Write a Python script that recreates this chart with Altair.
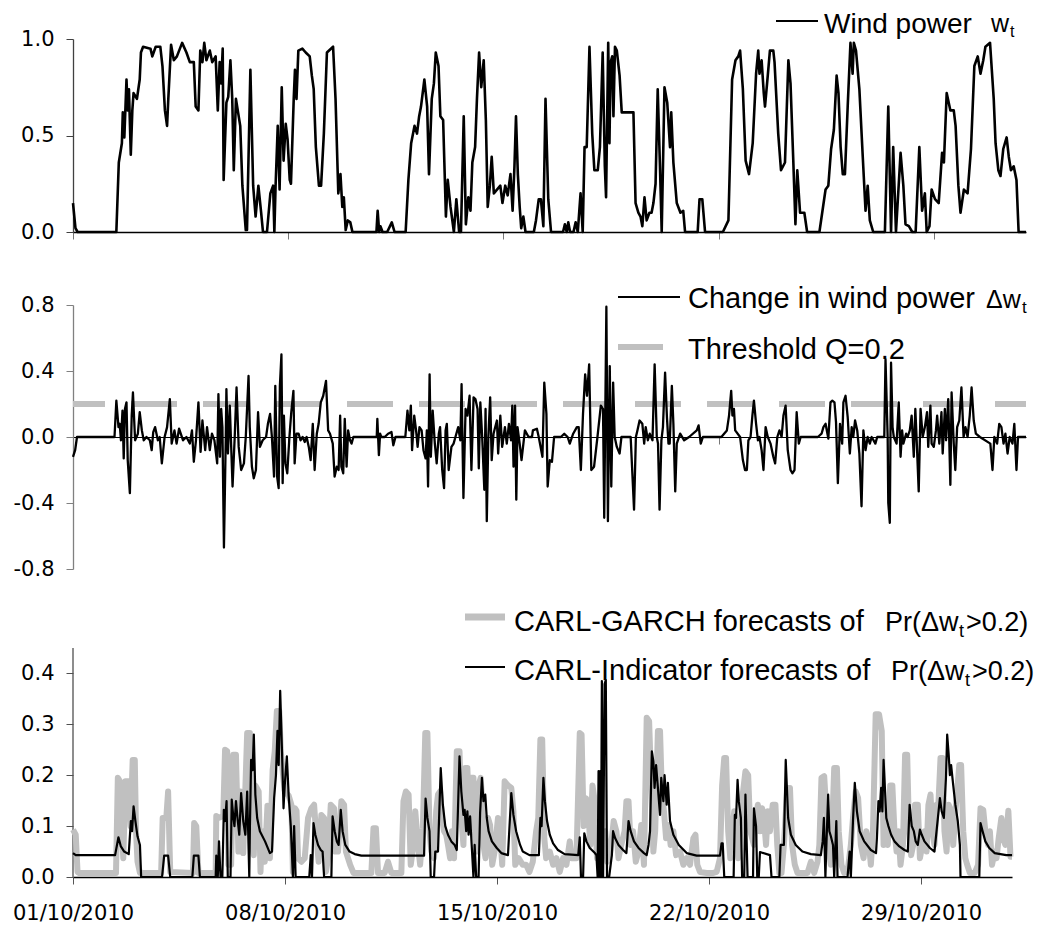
import altair as alt
import pandas as pd

# ---------------- data (days since 01/10/2010 00:00) -------------
W_DAY = [0.00, 0.08, 0.15, 1.41, 1.49, 1.59, 1.62, 1.67, 1.74, 1.78, 1.82, 1.88, 1.93, 1.97, 2.08, 2.17, 2.21, 2.28, 2.52, 2.58,
         2.69, 2.84, 2.91, 2.99, 3.06, 3.10, 3.19, 3.28, 3.38, 3.55, 3.69, 3.80, 3.93, 3.99, 4.08, 4.14, 4.21, 4.27, 4.34, 4.45,
         4.53, 4.64, 4.71, 4.77, 4.82, 4.87, 4.90, 4.99, 5.05, 5.12, 5.18, 5.23, 5.30, 5.44, 5.51, 5.62, 5.66, 5.77, 5.86, 5.94,
         6.03, 6.12, 6.18, 6.31, 6.42, 6.51, 6.55, 6.59, 6.66, 6.72, 6.79, 6.85, 6.92, 6.98, 7.05, 7.09, 7.18, 7.22, 7.27, 7.33,
         7.46, 7.57, 7.70, 7.77, 7.83, 7.90, 8.00, 8.07, 8.16, 8.26, 8.46, 8.54, 8.63, 8.70, 8.76, 8.81, 8.87, 8.94, 9.02, 9.09,
         9.87, 9.91, 9.96, 10.00, 10.07, 10.22, 10.37, 10.46, 10.82, 10.91, 11.00, 11.11, 11.19, 11.26, 11.32, 11.43, 11.52, 11.58, 11.67, 11.74,
         11.80, 11.89, 11.95, 12.04, 12.13, 12.19, 12.28, 12.39, 12.47, 12.56, 12.62, 12.71, 12.78, 12.86, 12.93, 12.99, 13.08, 13.14, 13.21, 13.28,
         13.36, 13.43, 13.49, 13.56, 13.62, 13.69, 13.90, 13.97, 14.06, 14.14, 14.23, 14.30, 14.36, 14.41, 14.47, 14.53, 14.58, 14.65, 14.72, 14.99,
         15.06, 15.15, 15.22, 15.30, 15.37, 15.46, 15.55, 15.94, 16.00, 16.06, 16.11, 16.17, 16.28, 16.35, 16.42, 16.51, 16.58, 16.64, 16.71, 16.80,
         16.89, 16.96, 17.07, 17.14, 17.23, 17.30, 17.34, 17.41, 17.45, 17.49, 17.54, 17.58, 17.63, 17.69, 17.78, 17.85, 18.23, 18.30, 18.39, 18.46,
         18.52, 18.59, 18.66, 18.75, 18.82, 18.88, 18.95, 19.02, 19.09, 19.15, 19.24, 19.33, 19.42, 19.46, 19.53, 19.64, 19.76, 19.85, 19.91, 20.32,
         20.38, 20.47, 20.56, 21.14, 21.32, 21.44, 21.55, 21.64, 21.70, 21.79, 21.88, 21.99, 22.11, 22.22, 22.29, 22.33, 22.40, 22.47, 22.51, 22.60,
         22.67, 22.78, 22.82, 22.94, 23.03, 23.16, 23.27, 23.34, 23.43, 23.50, 23.56, 23.65, 23.79, 23.88, 24.28, 24.48, 24.57, 24.66, 24.75, 24.84,
         24.90, 24.97, 25.04, 25.11, 25.20, 25.29, 25.36, 25.40, 25.47, 25.58, 25.69, 25.78, 25.85, 25.92, 26.03, 26.41, 26.52, 26.61, 26.68, 26.77,
         26.92, 27.01, 27.08, 27.19, 27.30, 27.41, 27.53, 27.62, 27.71, 27.77, 27.86, 27.93, 28.04, 28.16, 28.27, 28.33, 28.42, 28.54, 28.65, 28.71,
         28.80, 28.87, 28.98, 29.10, 29.21, 29.32, 29.43, 29.52, 29.61, 29.68, 29.83, 29.95, 30.01, 30.10, 30.17, 30.26, 30.37, 30.44, 30.51, 30.60,
         30.69, 30.76, 31.00]
W_VAL = [0.15, 0.02, 0.0, 0.0, 0.36, 0.46, 0.62, 0.49, 0.79, 0.63, 0.74, 0.40, 0.63, 0.72, 0.69, 0.79, 0.93, 0.96, 0.95, 0.91,
         0.96, 0.96, 0.86, 0.63, 0.55, 0.69, 0.97, 0.89, 0.91, 0.98, 0.93, 0.88, 0.88, 0.65, 0.63, 0.94, 0.88, 0.98, 0.89, 0.94,
         0.88, 0.91, 0.63, 0.88, 0.77, 0.95, 0.27, 0.67, 0.70, 0.89, 0.69, 0.32, 0.69, 0.55, 0.24, 0.01, 0.01, 0.84, 0.24, 0.08,
         0.24, 0.10, 0.0, 0.0, 0.20, 0.24, 0.0, 0.24, 0.55, 0.22, 0.75, 0.37, 0.56, 0.48, 0.27, 0.25, 0.69, 0.84, 0.69, 0.94,
         0.95, 0.93, 0.91, 0.81, 0.74, 0.44, 0.24, 0.24, 0.51, 0.93, 0.96, 0.69, 0.20, 0.30, 0.13, 0.18, 0.01, 0.06, 0.05, 0.0,
         0.0, 0.11, 0.0, 0.03, 0.0, 0.0, 0.05, 0.0, 0.0, 0.27, 0.46, 0.55, 0.51, 0.60, 0.65, 0.79, 0.65, 0.30, 0.69, 0.77,
         0.93, 0.86, 0.60, 0.58, 0.08, 0.27, 0.13, 0.0, 0.17, 0.0, 0.0, 0.60, 0.04, 0.18, 0.11, 0.36, 0.44, 0.69, 0.93, 0.75,
         0.89, 0.58, 0.13, 0.24, 0.39, 0.20, 0.24, 0.15, 0.24, 0.19, 0.30, 0.11, 0.34, 0.60, 0.30, 0.13, 0.02, 0.08, 0.0, 0.0,
         0.06, 0.17, 0.17, 0.03, 0.69, 0.17, 0.0, 0.0, 0.04, 0.0, 0.05, 0.0, 0.0, 0.05, 0.0, 0.20, 0.0, 0.44, 0.44, 0.96,
         0.51, 0.32, 0.32, 0.44, 0.93, 0.34, 0.18, 0.98, 0.46, 0.88, 0.91, 0.60, 0.96, 0.94, 0.81, 0.62, 0.62, 0.15, 0.10, 0.08,
         0.03, 0.18, 0.06, 0.10, 0.10, 0.15, 0.25, 0.74, 0.36, 0.0, 0.75, 0.67, 0.44, 0.62, 0.36, 0.15, 0.10, 0.11, 0.0, 0.0,
         0.17, 0.17, 0.0, 0.0, 0.06, 0.79, 0.89, 0.91, 0.94, 0.74, 0.37, 0.30, 0.46, 0.82, 0.94, 0.82, 0.89, 0.72, 0.65, 0.81,
         0.94, 0.94, 0.88, 0.51, 0.32, 0.36, 0.89, 0.77, 0.37, 0.04, 0.32, 0.10, 0.10, 0.0, 0.0, 0.22, 0.24, 0.43, 0.53, 0.81,
         0.72, 0.44, 0.30, 0.30, 0.65, 0.98, 0.82, 0.98, 0.94, 0.74, 0.39, 0.11, 0.24, 0.06, 0.0, 0.0, 0.65, 0.0, 0.44, 0.0,
         0.41, 0.24, 0.04, 0.03, 0.0, 0.0, 0.44, 0.11, 0.20, 0.0, 0.03, 0.22, 0.17, 0.15, 0.41, 0.36, 0.72, 0.63, 0.63, 0.55,
         0.24, 0.10, 0.22, 0.20, 0.43, 0.86, 0.91, 0.82, 0.89, 0.96, 0.98, 0.69, 0.46, 0.32, 0.29, 0.43, 0.49, 0.39, 0.32, 0.34,
         0.27, 0.0, 0.0]

DW_DAY = [0.00, 0.07, 0.13, 1.35, 1.41, 1.48, 1.52, 1.56, 1.61, 1.65, 1.69, 1.74, 1.78, 1.85, 1.91, 1.95, 2.02, 2.11, 2.17, 2.24,
          2.30, 2.39, 2.50, 2.56, 2.61, 2.67, 2.76, 2.82, 2.89, 2.98, 3.06, 3.15, 3.21, 3.30, 3.37, 3.45, 3.58, 3.69, 3.80, 3.87,
          3.93, 4.00, 4.08, 4.15, 4.21, 4.30, 4.36, 4.45, 4.52, 4.60, 4.69, 4.73, 4.78, 4.82, 4.86, 4.91, 4.97, 4.99, 5.04, 5.10,
          5.19, 5.26, 5.32, 5.39, 5.47, 5.56, 5.62, 5.71, 5.75, 5.82, 5.88, 5.95, 6.02, 6.08, 6.17, 6.28, 6.34, 6.41, 6.47, 6.54,
          6.58, 6.64, 6.69, 6.73, 6.78, 6.82, 6.86, 6.91, 6.97, 7.04, 7.10, 7.17, 7.21, 7.27, 7.34, 7.40, 7.47, 7.54, 7.60, 7.67,
          7.73, 7.80, 7.86, 7.93, 7.99, 8.06, 8.14, 8.23, 8.30, 8.36, 8.45, 8.51, 8.58, 8.64, 8.69, 8.73, 8.79, 8.84, 8.90, 8.95,
          9.01, 9.06, 9.12, 9.88, 9.90, 9.95, 9.99, 10.03, 10.14, 10.25, 10.36, 10.42, 10.49, 10.81, 10.88, 10.94, 10.99, 11.03, 11.10, 11.16,
          11.21, 11.27, 11.34, 11.40, 11.47, 11.51, 11.55, 11.60, 11.64, 11.70, 11.77, 11.83, 11.90, 11.94, 12.01, 12.07, 12.12, 12.16, 12.22, 12.31,
          12.38, 12.44, 12.53, 12.60, 12.64, 12.70, 12.77, 12.83, 12.90, 12.96, 13.03, 13.09, 13.16, 13.20, 13.25, 13.31, 13.38, 13.42, 13.46, 13.51,
          13.57, 13.62, 13.68, 13.72, 13.79, 13.83, 13.90, 13.96, 14.05, 14.11, 14.18, 14.25, 14.29, 14.33, 14.38, 14.42, 14.46, 14.53, 14.59, 14.70,
          14.82, 14.93, 14.96, 15.09, 15.15, 15.27, 15.33, 15.40, 15.44, 15.51, 15.58, 15.65, 15.87, 15.98, 16.09, 16.16, 16.27, 16.39, 16.45, 16.52,
          16.59, 16.66, 16.72, 16.79, 16.86, 16.95, 17.06, 17.17, 17.24, 17.28, 17.35, 17.40, 17.46, 17.51, 17.57, 17.62, 17.69, 17.78, 17.84, 18.14,
          18.25, 18.31, 18.36, 18.43, 18.52, 18.58, 18.63, 18.70, 18.76, 18.85, 18.92, 18.99, 19.03, 19.08, 19.14, 19.19, 19.26, 19.32, 19.37, 19.41,
          19.48, 19.53, 19.59, 19.64, 19.75, 19.88, 20.04, 20.29, 20.35, 20.42, 20.49, 21.09, 21.18, 21.27, 21.34, 21.41, 21.45, 21.50, 21.54, 21.70,
          21.79, 21.86, 21.92, 21.97, 22.04, 22.10, 22.15, 22.22, 22.28, 22.33, 22.40, 22.46, 22.53, 22.60, 22.69, 22.78, 22.84, 22.91, 22.98, 23.05,
          23.11, 23.18, 23.25, 23.34, 23.40, 23.47, 23.54, 23.61, 23.67, 24.23, 24.35, 24.41, 24.48, 24.57, 24.64, 24.70, 24.77, 24.82, 24.88, 24.95,
          25.02, 25.06, 25.13, 25.20, 25.27, 25.33, 25.38, 25.44, 25.51, 25.58, 25.65, 25.71, 25.78, 25.85, 25.92, 25.98, 26.10, 26.16, 26.39, 26.43,
          26.50, 26.52, 26.57, 26.61, 26.66, 26.70, 26.79, 26.86, 26.92, 26.97, 27.01, 27.10, 27.15, 27.22, 27.28, 27.35, 27.40, 27.44, 27.51, 27.57,
          27.64, 27.71, 27.78, 27.82, 27.89, 27.93, 28.00, 28.07, 28.11, 28.18, 28.25, 28.29, 28.36, 28.40, 28.47, 28.54, 28.58, 28.65, 28.70, 28.76,
          28.83, 28.90, 28.97, 29.03, 29.10, 29.17, 29.23, 29.30, 29.37, 29.50, 29.84, 29.91, 29.97, 30.06, 30.13, 30.20, 30.27, 30.33, 30.40, 30.47,
          30.56, 30.62, 30.69, 30.74, 30.96, 31.00]
DW_VAL = [-0.12, -0.08, 0.0, 0.0, 0.22, 0.06, 0.08, -0.02, 0.16, -0.13, 0.17, 0.21, -0.14, -0.34, 0.13, 0.27, -0.02, 0.02, 0.15, 0.04,
          -0.02, 0.0, -0.02, -0.08, 0.03, 0.06, -0.02, 0.0, -0.16, 0.0, 0.06, 0.23, -0.04, 0.04, -0.04, 0.05, -0.02, 0.0, -0.04, 0.04,
          -0.15, -0.02, 0.21, -0.09, 0.10, -0.08, 0.06, -0.08, 0.02, -0.02, -0.16, 0.26, -0.12, 0.17, 0.06, -0.67, 0.0, 0.29, -0.10, 0.19,
          -0.30, 0.0, 0.30, -0.06, -0.20, -0.16, 0.0, 0.37, 0.06, -0.18, -0.25, -0.20, 0.15, -0.06, -0.02, 0.0, 0.08, 0.14, 0.0, -0.24,
          0.31, -0.24, -0.31, 0.31, 0.50, -0.28, 0.13, -0.16, -0.22, 0.0, 0.15, 0.28, -0.16, 0.02, 0.02, -0.02, 0.0, -0.03, 0.0, -0.06,
          -0.14, 0.08, -0.20, 0.02, 0.08, 0.21, 0.25, 0.34, 0.04, 0.02, -0.04, -0.24, -0.18, -0.20, 0.13, -0.18, -0.22, 0.11, -0.18, 0.04,
          -0.02, -0.04, 0.0, 0.0, 0.11, -0.11, 0.02, 0.0, 0.0, 0.02, 0.03, -0.05, 0.0, 0.0, 0.16, 0.04, 0.19, -0.08, 0.13, 0.04,
          -0.06, 0.06, 0.04, -0.08, -0.13, 0.04, -0.30, 0.38, -0.12, 0.16, -0.04, -0.16, 0.02, 0.06, -0.20, -0.31, 0.04, 0.08, -0.20, -0.06,
          -0.04, 0.0, 0.06, -0.02, 0.32, -0.37, 0.17, 0.13, 0.25, -0.20, 0.24, 0.23, 0.17, -0.19, 0.21, 0.0, -0.32, 0.17, -0.51, 0.0,
          0.24, -0.14, 0.02, 0.05, 0.10, -0.10, 0.13, -0.06, 0.06, -0.04, 0.08, -0.02, 0.19, -0.18, 0.19, -0.38, 0.06, -0.04, -0.14, 0.04,
          0.0, 0.0, 0.04, 0.05, 0.0, -0.12, 0.33, 0.14, -0.30, -0.14, -0.15, 0.0, 0.0, 0.02, 0.0, -0.04, 0.02, 0.06, 0.06, -0.20,
          0.14, 0.38, 0.25, 0.44, -0.20, -0.18, 0.0, 0.19, 0.17, -0.49, 0.79, -0.51, 0.43, -0.30, 0.33, 0.0, -0.06, -0.10, 0.0, 0.0,
          -0.44, 0.0, 0.04, 0.10, 0.08, -0.04, 0.06, -0.02, 0.02, -0.02, 0.44, 0.0, -0.04, -0.44, -0.02, 0.06, 0.39, 0.12, -0.04, -0.04,
          0.31, 0.08, -0.33, -0.04, 0.02, -0.02, 0.0, 0.04, 0.07, -0.04, 0.0, 0.0, 0.02, 0.04, 0.13, 0.28, 0.13, 0.17, 0.04, 0.0,
          -0.14, -0.20, -0.20, -0.02, 0.0, 0.13, 0.22, 0.08, -0.02, 0.0, -0.08, -0.20, 0.06, 0.0, -0.04, -0.12, -0.16, 0.0, 0.04, 0.0,
          0.13, 0.19, -0.08, -0.20, -0.22, -0.20, 0.15, -0.04, 0.0, 0.0, 0.02, 0.06, 0.08, -0.01, 0.21, 0.22, 0.21, 0.09, -0.28, 0.08,
          -0.04, 0.21, 0.25, 0.12, -0.10, 0.06, 0.0, 0.10, 0.04, -0.10, -0.42, 0.04, -0.08, 0.0, -0.04, 0.0, -0.04, 0.0, 0.0, 0.47,
          0.0, -0.40, -0.52, 0.45, 0.06, 0.0, -0.04, 0.21, -0.12, 0.04, -0.04, 0.02, 0.0, 0.04, 0.13, -0.12, 0.17, 0.0, -0.33, 0.17,
          0.0, 0.06, 0.15, -0.06, 0.19, -0.04, -0.06, 0.04, 0.13, -0.04, 0.15, -0.10, 0.17, -0.02, 0.23, -0.29, 0.27, -0.04, -0.20, 0.06,
          0.10, 0.30, 0.0, 0.06, 0.0, 0.13, 0.30, 0.10, 0.02, 0.0, -0.04, -0.20, 0.0, -0.04, 0.08, 0.06, -0.04, 0.02, -0.10, 0.0,
          -0.04, 0.08, -0.20, 0.0, 0.0, 0.0]

GARCH_DAY = [0.00, 0.09, 0.15, 0.20, 1.42, 1.48, 1.55, 1.59, 1.66, 1.73, 1.84, 1.90, 1.97, 2.04, 2.08, 2.13, 2.21, 2.91, 2.96, 3.08,
             3.14, 3.21, 3.96, 4.00, 4.07, 4.14, 4.71, 4.73, 4.80, 4.96, 5.02, 5.09, 5.13, 5.22, 5.29, 5.38, 5.46, 5.53, 5.62, 5.75,
             5.84, 5.91, 5.97, 6.02, 6.13, 6.19, 6.24, 6.33, 6.42, 6.50, 6.59, 6.66, 6.73, 6.81, 6.86, 6.92, 6.99, 7.12, 7.21, 7.26,
             7.33, 7.38, 7.43, 7.54, 7.65, 7.76, 7.87, 7.96, 8.02, 8.11, 8.20, 8.29, 8.35, 8.42, 8.51, 8.62, 8.66, 8.75, 8.86, 8.95,
             9.01, 9.15, 9.26, 9.85, 9.92, 10.00, 10.07, 10.29, 10.40, 10.51, 10.84, 10.91, 10.99, 11.08, 11.15, 11.24, 11.30, 11.39, 11.46, 11.55,
             11.63, 11.70, 11.77, 11.83, 11.92, 11.99, 12.05, 12.12, 12.18, 12.25, 12.32, 12.38, 12.45, 12.51, 12.58, 12.67, 12.76, 12.82, 12.89, 12.95,
             13.02, 13.09, 13.15, 13.22, 13.26, 13.33, 13.39, 13.46, 13.50, 13.55, 13.62, 13.70, 13.77, 13.84, 13.92, 14.03, 14.10, 14.17, 14.25, 14.36,
             14.47, 14.54, 14.60, 14.71, 14.85, 14.96, 15.07, 15.18, 15.29, 15.36, 15.43, 15.49, 15.56, 15.62, 15.74, 15.85, 15.96, 16.07, 16.18, 16.29,
             16.40, 16.46, 16.62, 16.73, 16.79, 16.86, 16.93, 16.99, 17.08, 17.15, 17.21, 17.30, 17.39, 17.48, 17.57, 17.64, 17.72, 17.79, 17.85, 17.94,
             18.01, 18.10, 18.21, 18.27, 18.34, 18.41, 18.49, 18.58, 18.67, 18.76, 18.85, 18.94, 19.02, 19.09, 19.16, 19.22, 19.31, 19.38, 19.44, 19.51,
             19.58, 19.66, 19.73, 19.82, 19.91, 20.04, 20.15, 20.26, 20.37, 20.48, 20.55, 20.61, 20.70, 20.92, 21.14, 21.25, 21.36, 21.43, 21.50, 21.56,
             21.63, 21.70, 21.76, 21.83, 21.89, 21.96, 22.03, 22.11, 22.20, 22.29, 22.36, 22.48, 22.55, 22.61, 22.68, 22.75, 22.81, 22.88, 22.94, 23.01,
             23.10, 23.19, 23.25, 23.32, 23.39, 23.47, 23.58, 23.67, 23.74, 23.83, 23.92, 24.25, 24.36, 24.47, 24.58, 24.64, 24.71, 24.80, 24.87, 24.93,
             25.02, 25.13, 25.22, 25.28, 25.37, 25.46, 25.57, 25.68, 25.75, 25.84, 25.92, 26.01, 26.10, 26.19, 26.28, 26.34, 26.41, 26.50, 26.61, 26.70,
             26.76, 26.83, 26.90, 26.98, 27.05, 27.12, 27.19, 27.25, 27.32, 27.40, 27.47, 27.54, 27.60, 27.67, 27.74, 27.80, 27.89, 27.96, 28.04, 28.11,
             28.18, 28.24, 28.31, 28.37, 28.44, 28.51, 28.57, 28.64, 28.71, 28.77, 28.84, 28.91, 28.99, 29.06, 29.13, 29.19, 29.26, 29.32, 29.39, 29.46,
             29.52, 29.61, 29.77, 29.88, 29.96, 30.05, 30.12, 30.21, 30.27, 30.34, 30.43, 30.49, 30.56, 30.65, 30.71, 30.78, 30.88, 30.95, 31.00]
GARCH_VAL = [0.093, 0.083, 0.010, 0.008, 0.008, 0.195, 0.188, 0.116, 0.037, 0.188, 0.188, 0.100, 0.230, 0.230, 0.090, 0.030, 0.008, 0.008, 0.116, 0.116,
             0.168, 0.010, 0.008, 0.106, 0.100, 0.008, 0.008, 0.120, 0.116, 0.120, 0.250, 0.247, 0.024, 0.024, 0.240, 0.240, 0.050, 0.168, 0.047, 0.283,
             0.283, 0.063, 0.043, 0.180, 0.168, 0.010, 0.090, 0.030, 0.140, 0.037, 0.210, 0.247, 0.326, 0.326, 0.247, 0.210, 0.168, 0.160, 0.142, 0.010,
             0.135, 0.130, 0.037, 0.030, 0.037, 0.116, 0.135, 0.142, 0.090, 0.030, 0.122, 0.116, 0.010, 0.037, 0.142, 0.135, 0.050, 0.050, 0.149, 0.142,
             0.050, 0.024, 0.008, 0.008, 0.096, 0.096, 0.008, 0.008, 0.030, 0.008, 0.008, 0.149, 0.168, 0.162, 0.024, 0.063, 0.129, 0.063, 0.024, 0.096,
             0.283, 0.283, 0.090, 0.050, 0.037, 0.129, 0.162, 0.168, 0.116, 0.090, 0.083, 0.063, 0.037, 0.090, 0.037, 0.247, 0.247, 0.116, 0.063, 0.214,
             0.214, 0.102, 0.195, 0.195, 0.090, 0.050, 0.180, 0.195, 0.155, 0.063, 0.037, 0.116, 0.102, 0.024, 0.050, 0.116, 0.090, 0.024, 0.188, 0.180,
             0.175, 0.129, 0.024, 0.037, 0.024, 0.024, 0.010, 0.030, 0.090, 0.116, 0.270, 0.270, 0.076, 0.037, 0.050, 0.024, 0.037, 0.010, 0.037, 0.024,
             0.070, 0.037, 0.037, 0.283, 0.280, 0.100, 0.155, 0.149, 0.063, 0.180, 0.155, 0.037, 0.116, 0.063, 0.090, 0.030, 0.043, 0.076, 0.110, 0.090,
             0.037, 0.063, 0.090, 0.149, 0.149, 0.063, 0.090, 0.030, 0.050, 0.102, 0.024, 0.313, 0.306, 0.180, 0.050, 0.090, 0.287, 0.287, 0.168, 0.129,
             0.076, 0.102, 0.063, 0.090, 0.043, 0.050, 0.024, 0.037, 0.024, 0.076, 0.083, 0.024, 0.010, 0.008, 0.008, 0.010, 0.037, 0.180, 0.234, 0.234,
             0.090, 0.037, 0.083, 0.129, 0.090, 0.037, 0.090, 0.162, 0.208, 0.200, 0.090, 0.063, 0.116, 0.142, 0.090, 0.135, 0.116, 0.063, 0.129, 0.090,
             0.142, 0.142, 0.063, 0.008, 0.008, 0.063, 0.175, 0.175, 0.063, 0.024, 0.008, 0.008, 0.030, 0.008, 0.030, 0.063, 0.195, 0.198, 0.129, 0.063,
             0.024, 0.214, 0.214, 0.090, 0.024, 0.008, 0.010, 0.063, 0.116, 0.168, 0.155, 0.063, 0.037, 0.090, 0.063, 0.024, 0.090, 0.320, 0.320, 0.287,
             0.063, 0.102, 0.063, 0.180, 0.180, 0.090, 0.050, 0.090, 0.024, 0.063, 0.240, 0.240, 0.090, 0.043, 0.063, 0.142, 0.142, 0.037, 0.063, 0.090,
             0.050, 0.142, 0.162, 0.090, 0.063, 0.142, 0.142, 0.234, 0.234, 0.090, 0.050, 0.142, 0.129, 0.063, 0.129, 0.168, 0.220, 0.220, 0.090, 0.037,
             0.024, 0.008, 0.008, 0.024, 0.135, 0.132, 0.090, 0.063, 0.090, 0.024, 0.050, 0.037, 0.076, 0.116, 0.076, 0.063, 0.130, 0.040, 0.040]

IND_DAY = [0.00, 0.09, 1.39, 1.50, 1.58, 1.69, 1.84, 1.91, 1.95, 2.00, 2.06, 2.13, 2.21, 2.25, 2.94, 3.01, 3.14, 3.21, 3.94, 3.99,
           4.14, 4.19, 4.71, 4.73, 4.78, 4.82, 4.87, 4.93, 4.98, 5.02, 5.07, 5.11, 5.20, 5.24, 5.29, 5.33, 5.38, 5.44, 5.49, 5.55,
           5.62, 5.69, 5.75, 5.82, 5.84, 5.88, 5.93, 5.97, 6.02, 6.08, 6.17, 6.34, 6.50, 6.57, 6.64, 6.70, 6.75, 6.79, 6.84, 6.90,
           6.95, 6.99, 7.06, 7.12, 7.19, 7.26, 7.30, 7.35, 7.43, 7.80, 7.85, 7.89, 7.94, 8.00, 8.09, 8.18, 8.24, 8.29, 8.53, 8.57,
           8.64, 8.71, 8.77, 8.84, 8.90, 8.99, 9.13, 9.30, 9.52, 11.59, 11.64, 11.70, 11.77, 11.81, 11.92, 11.96, 12.05, 12.14, 12.21, 12.29,
           12.38, 12.49, 12.60, 12.67, 12.76, 12.82, 12.89, 12.93, 12.98, 13.02, 13.06, 13.11, 13.15, 13.22, 13.26, 13.31, 13.39, 13.44, 13.50, 13.55,
           13.61, 13.66, 13.72, 13.83, 13.99, 14.14, 14.36, 14.47, 14.54, 14.63, 14.76, 14.85, 15.07, 15.38, 15.43, 15.47, 15.53, 15.58, 15.65, 15.74,
           15.85, 16.01, 16.23, 16.68, 16.73, 16.77, 16.84, 16.88, 16.95, 17.06, 17.23, 17.28, 17.32, 17.35, 17.39, 17.41, 17.43, 17.46, 17.50, 17.55,
           17.59, 17.63, 17.70, 17.79, 17.83, 17.90, 18.01, 18.16, 18.27, 18.34, 18.41, 18.52, 18.67, 18.85, 18.94, 19.00, 19.05, 19.11, 19.16, 19.20,
           19.25, 19.31, 19.38, 19.42, 19.49, 19.53, 19.60, 19.64, 19.71, 19.82, 20.00, 20.26, 20.59, 21.36, 21.41, 21.45, 21.50, 21.81, 21.85, 21.89,
           21.94, 21.98, 22.05, 22.09, 22.16, 22.20, 22.27, 22.45, 22.48, 22.55, 22.59, 22.64, 22.68, 23.01, 23.06, 23.32, 23.36, 23.47, 23.53, 23.61,
           23.70, 23.86, 24.08, 24.36, 24.69, 24.75, 24.79, 24.84, 24.88, 24.93, 24.97, 25.02, 25.09, 25.13, 25.20, 25.24, 25.57, 25.64, 25.68, 25.75,
           25.81, 25.88, 25.97, 26.12, 26.34, 26.51, 26.54, 26.59, 26.63, 26.68, 26.72, 26.76, 26.81, 26.85, 26.92, 27.01, 27.12, 27.28, 27.45, 27.56,
           27.62, 27.69, 27.76, 27.82, 27.89, 27.96, 28.02, 28.11, 28.29, 28.44, 28.62, 28.68, 28.75, 28.82, 28.86, 28.91, 28.95, 28.99, 29.06, 29.13,
           29.21, 29.28, 29.30, 29.92, 29.96, 30.03, 30.12, 30.25, 30.43, 30.81, 31.00]
IND_VAL = [0.047, 0.043, 0.043, 0.078, 0.060, 0.050, 0.045, 0.110, 0.090, 0.139, 0.110, 0.080, 0.063, 0.0, 0.0, 0.042, 0.042, 0.0, 0.0, 0.042,
           0.042, 0.0, 0.0, 0.042, 0.0, 0.070, 0.0, 0.0, 0.132, 0.110, 0.149, 0.0, 0.0, 0.152, 0.120, 0.100, 0.149, 0.110, 0.083, 0.165,
           0.110, 0.083, 0.168, 0.0, 0.096, 0.230, 0.210, 0.280, 0.162, 0.116, 0.090, 0.070, 0.047, 0.050, 0.155, 0.200, 0.287, 0.220, 0.366, 0.247,
           0.135, 0.180, 0.237, 0.160, 0.100, 0.0, 0.100, 0.0, 0.0, 0.0, 0.043, 0.0, 0.106, 0.083, 0.063, 0.053, 0.050, 0.0, 0.0, 0.119,
           0.090, 0.070, 0.063, 0.132, 0.090, 0.063, 0.050, 0.045, 0.042, 0.042, 0.154, 0.116, 0.090, 0.0, 0.0, 0.050, 0.050, 0.214, 0.142, 0.100,
           0.083, 0.070, 0.063, 0.053, 0.237, 0.168, 0.122, 0.132, 0.090, 0.129, 0.083, 0.119, 0.076, 0.0, 0.063, 0.0, 0.0, 0.126, 0.195, 0.149,
           0.162, 0.116, 0.090, 0.070, 0.057, 0.047, 0.043, 0.165, 0.122, 0.090, 0.063, 0.050, 0.043, 0.043, 0.116, 0.100, 0.195, 0.149, 0.110, 0.083,
           0.066, 0.053, 0.045, 0.043, 0.078, 0.0, 0.0, 0.086, 0.070, 0.057, 0.047, 0.043, 0.0, 0.208, 0.0, 0.208, 0.0, 0.385, 0.0, 0.379,
           0.387, 0.0, 0.0, 0.043, 0.090, 0.076, 0.063, 0.053, 0.047, 0.110, 0.090, 0.070, 0.057, 0.047, 0.043, 0.063, 0.090, 0.247, 0.227, 0.175,
           0.220, 0.175, 0.122, 0.195, 0.149, 0.200, 0.142, 0.185, 0.110, 0.083, 0.063, 0.047, 0.042, 0.042, 0.066, 0.066, 0.0, 0.0, 0.122, 0.116,
           0.191, 0.149, 0.116, 0.0, 0.0, 0.162, 0.0, 0.0, 0.135, 0.100, 0.0, 0.0, 0.049, 0.043, 0.0, 0.0, 0.063, 0.063, 0.230, 0.116,
           0.083, 0.063, 0.050, 0.045, 0.043, 0.070, 0.116, 0.0, 0.076, 0.162, 0.090, 0.080, 0.063, 0.0, 0.110, 0.0, 0.0, 0.050, 0.0, 0.110,
           0.185, 0.129, 0.090, 0.070, 0.053, 0.047, 0.076, 0.149, 0.129, 0.175, 0.129, 0.230, 0.168, 0.116, 0.100, 0.083, 0.070, 0.060, 0.053, 0.050,
           0.142, 0.100, 0.090, 0.070, 0.063, 0.093, 0.083, 0.070, 0.057, 0.050, 0.155, 0.129, 0.116, 0.195, 0.280, 0.240, 0.200, 0.220, 0.180, 0.142,
           0.110, 0.063, 0.0, 0.0, 0.106, 0.090, 0.070, 0.057, 0.047, 0.043, 0.043]

THRESHOLD_Q = 0.2
TICK_DATES = [1, 8, 15, 22, 29]          # October 2010
W_TICKS = [0.0, 0.5, 1.0]
DW_TICKS = [-0.8, -0.4, 0.0, 0.4, 0.8]
P_TICKS = [0.0, 0.1, 0.2, 0.3, 0.4]
P_AXIS_TOP = 0.45                       # top of the drawn y-axis line in the bottom panel

# ---------------- helpers -------------
START = pd.Timestamp("2010-10-01")
END = pd.Timestamp("2010-11-01")


def frame(days, vals):
    return pd.DataFrame({"t": START + pd.to_timedelta(days, unit="D"), "v": vals})


DOM = [alt.DateTime(year=2010, month=10, date=1), alt.DateTime(year=2010, month=11, date=1)]
TICKS = [alt.DateTime(year=2010, month=10, date=d) for d in TICK_DATES]
FONT = "Liberation Sans"
AXFONT = "DejaVu Sans"
ONE = pd.DataFrame({"k": [0]})


def leg_rule(x1, x2, y, color, width):
    return alt.Chart(ONE).mark_rule(color=color, strokeWidth=width).encode(
        x=alt.value(x1), x2=alt.value(x2), y=alt.value(y))


def leg_text(txt, x, y, size):
    return alt.Chart(ONE).mark_text(text=txt, align="left", baseline="alphabetic", font=FONT,
                                    fontSize=size, color="black").encode(x=alt.value(x), y=alt.value(y))


def y_axis(values, color, domain=True):
    return alt.Axis(values=values, format=".1f", tickSize=7, domain=domain, domainColor=color, tickColor=color,
                    labelPadding=12, domainWidth=1.3,
                    labelExpr="replace(datum.label, '\u2212', '-')")


WIDTH12, WIDTH3 = 953, 939
H1, H2 = 193, 264
H3 = 235                                   # plot area; axis line itself stops at P_AXIS_TOP
P_DOM_TOP = P_AXIS_TOP * H3 / 229.0

# ---------------- panel 1 -------------
x1 = alt.X("t:T", title=None, scale=alt.Scale(domain=DOM),
           axis=alt.Axis(values=TICKS, labels=False, tickSize=7, tickColor="#777", domainColor="black", domainWidth=1.5))
y1 = alt.Y("v:Q", title=None, scale=alt.Scale(domain=[0, 1], nice=False, zero=False), axis=y_axis(W_TICKS, "#404040"))
line1 = alt.Chart(frame(W_DAY, W_VAL)).mark_line(color="black", strokeWidth=2.6, strokeJoin="round").encode(x=x1, y=y1)
p1 = alt.layer(
    line1,
    leg_rule(703, 745, -18, "black", 2),
    leg_text("Wind power", 751, -6, 28),
    leg_text("w", 918, -7, 25),
    leg_text("t", 937, -2, 16),
).properties(width=WIDTH12, height=H1)

# ---------------- panel 2 -------------
x2 = alt.X("t:T", title=None, scale=alt.Scale(domain=DOM),
           axis=alt.Axis(values=TICKS, labels=False, tickSize=7, tickColor="#777", domainColor="black",
                         domainWidth=1, offset=-H2 / 2))
y2 = alt.Y("v:Q", title=None, scale=alt.Scale(domain=[-0.8, 0.8], nice=False, zero=False), axis=y_axis(DW_TICKS, "#808080"))
thr = pd.DataFrame({"t": [START], "t2": [END], "v": [THRESHOLD_Q]})
rule_q = alt.Chart(thr).mark_rule(color="#c0c0c0", strokeWidth=6, strokeDash=[46, 26], strokeDashOffset=14).encode(
    x=x2, x2="t2:T", y=y2)
line2 = alt.Chart(frame(DW_DAY, DW_VAL)).mark_line(color="black", strokeWidth=2.3, strokeJoin="round").encode(x=x2, y=y2)
p2 = alt.layer(
    rule_q, line2,
    leg_rule(545, 607, -8, "black", 2),
    leg_text("Change in wind power", 615, 3, 29),
    leg_text("\u0394w", 913, 3, 25),
    leg_text("t", 949, 8, 17),
    leg_rule(545, 590, 42, "#c0c0c0", 6),
    leg_text("Threshold Q=0.2", 615, 54, 29),
).properties(width=WIDTH12, height=H2)

# ---------------- panel 3 -------------
x3 = alt.X("t:T", title=None, scale=alt.Scale(domain=DOM),
           axis=alt.Axis(values=TICKS, format="%d/%m/%Y", tickSize=7, tickColor="#555", domainColor="black",
                         domainWidth=1.5, labelPadding=18, labelFlush=False))
y3 = alt.Y("v:Q", title=None, scale=alt.Scale(domain=[0, P_DOM_TOP], nice=False, zero=False),
           axis=y_axis(P_TICKS, "#505050", domain=False))
axis_line = alt.Chart(pd.DataFrame({"t": [START], "v": [0.0], "v2": [P_AXIS_TOP]})).mark_rule(
    color="#505050", strokeWidth=1.3).encode(x=x3, y=y3, y2="v2:Q")
garch = alt.Chart(frame(GARCH_DAY, GARCH_VAL)).mark_line(color="#c0c0c0", strokeWidth=6, strokeJoin="round").encode(x=x3, y=y3)
ind = alt.Chart(frame(IND_DAY, IND_VAL)).mark_line(color="black", strokeWidth=2.2, strokeJoin="round").encode(x=x3, y=y3)
p3 = alt.layer(
    axis_line, garch, ind,
    leg_rule(392, 432, -25, "#c0c0c0", 7),
    leg_text("CARL-GARCH forecasts of", 441, -11, 29),
    leg_text("Pr(\u0394w", 812, -11, 27),
    leg_text("t", 886, -5, 18),
    leg_text(">0.2)", 893, -11, 27),
    leg_rule(392, 432, 25, "black", 2),
    leg_text("CARL-Indicator forecasts of", 441, 38, 29),
    leg_text("Pr(\u0394w", 818, 38, 27),
    leg_text("t", 892, 44, 18),
    leg_text(">0.2)", 899, 38, 27),
).properties(width=WIDTH3, height=H3)

chart = alt.vconcat(p1, p2, p3, spacing=73, bounds="flush").resolve_scale(
    x="independent", y="independent"
).properties(
    padding={"left": 12, "top": 11, "right": 0, "bottom": 0}
).configure_view(stroke=None).configure_axis(
    grid=False, labelFont=AXFONT, labelFontSize=21, labelColor="black", tickWidth=1
)

chart.save("out.html", embed_options={"renderer": "svg", "actions": False})
